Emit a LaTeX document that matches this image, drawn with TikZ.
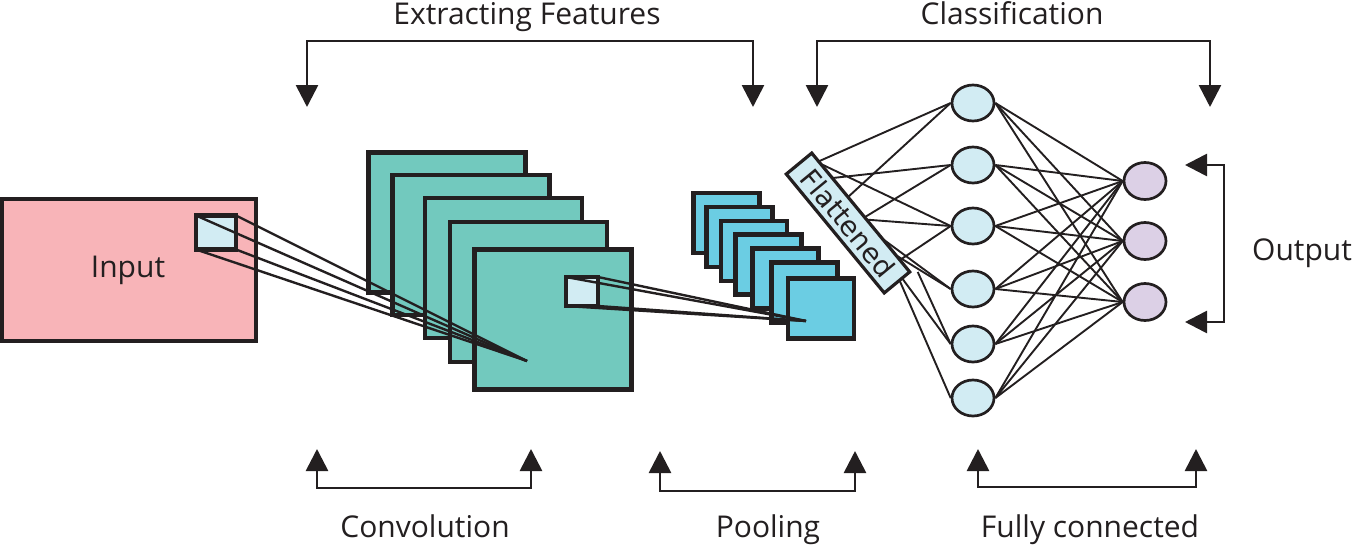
\documentclass[tikz,border=0pt]{standalone}
\usepackage{fontspec}
\setmainfont{Open Sans}
\newfontfamily\flatfont{DejaVu Sans}
\usetikzlibrary{arrows.meta,shapes.geometric,calc}
\definecolor{ink}{HTML}{231F20}
\definecolor{inpink}{HTML}{F8B4B8}
\definecolor{convteal}{HTML}{72C9BE}
\definecolor{poolblue}{HTML}{6BCDE3}
\definecolor{paleblue}{HTML}{D2ECF3}
\definecolor{lavender}{HTML}{DCD0E6}
\pgfdeclarelayer{bg}
\pgfsetlayers{bg,main}
\begin{document}
\begin{tikzpicture}[x=1pt,y=-1pt,
 box/.style={draw=ink, line width=4.2pt, inner sep=0pt, outer sep=0pt, rectangle},
 convsq/.style={box, fill=convteal, minimum width=157pt, minimum height=140pt},
 poolsq/.style={box, fill=poolblue, minimum width=66pt, minimum height=60pt},
 lbl/.style={font=\fontsize{30}{36}\selectfont, text=ink, anchor=base, inner sep=0pt},
 brk/.style={draw=ink, line width=2.7pt, {Triangle[width=22pt,length=22pt]}-{Triangle[width=22pt,length=22pt]}},
 wire/.style={draw=ink, line width=1.9pt},
 ray/.style={draw=ink, line width=2.4pt},
 neuron/.style={ellipse, draw=ink, line width=2.7pt, fill=paleblue, minimum width=42pt, minimum height=36pt, inner sep=0pt},
 outn/.style={neuron, fill=lavender, minimum height=37pt}
]
\useasboundingbox (0,0) rectangle (1352,546);

% labels
\node[lbl] (tExtract) at (527,24) {Extracting Features};
\node[lbl] (tClass) at (1012,24) {Classification};
\node[lbl] (tConv) at (425,537) {Convolution};
\node[lbl] (tPool) at (768,537) {Pooling};
\node[lbl] (tFull) at (1090,537) {Fully connected};
\node[lbl] (tOut) at (1302,260) {Output};

% brackets
\coordinate (eL) at (307,107); \coordinate (eM) at (530,41); \coordinate (eR) at (753,107);
\draw[brk] (eL) |- (eM) -| (eR);
\coordinate (kL) at (817,107); \coordinate (kM) at (1013,41); \coordinate (kR) at (1210,107);
\draw[brk] (kL) |- (kM) -| (kR);
\coordinate (cL) at (317,449); \coordinate (cM) at (424,488); \coordinate (cR) at (531,449);
\draw[brk] (cL) |- (cM) -| (cR);
\coordinate (pL) at (660,451); \coordinate (pM) at (757,491); \coordinate (pR) at (855,451);
\draw[brk] (pL) |- (pM) -| (pR);
\coordinate (fL) at (978,449); \coordinate (fM) at (1087,487); \coordinate (fR) at (1196,449);
\draw[brk] (fL) |- (fM) -| (fR);
\coordinate (oT) at (1185,165); \coordinate (oM) at (1224,243); \coordinate (oB) at (1185,322);
\draw[brk] (oT) -| (oM) |- (oB);

% input
\node[box, fill=inpink, minimum width=254pt, minimum height=142pt] (input) at (129,270) {};
\node[lbl] (inputlbl) at (128,277) {Input};
\node[box, fill=paleblue, minimum width=40pt, minimum height=34pt] (insq) at (216,232.5) {};

% convolution maps
\node[convsq] (c1) at (447,222.5) {};
\node[convsq] (c2) at (471,245) {};
\node[convsq] (c3) at (503.5,268) {};
\node[convsq] (c4) at (528.5,292) {};
\node[convsq] (c5) at (553,319.5) {};
\node[box, fill=paleblue, minimum width=32pt, minimum height=29pt] (csq) at (582,291.5) {};

\coordinate (cp1) at (527,361);
\foreach \a in {north west,north east,south west,south east}
  \draw[ray] (insq.\a) -- (cp1);

% pooling maps
\node[poolsq] (p1) at (726.5,223) {};
\node[poolsq] (p2) at (739.5,237) {};
\node[poolsq] (p3) at (754,251) {};
\node[poolsq] (p4) at (768.5,264.5) {};
\node[poolsq] (p5) at (785.5,278.5) {};
\node[poolsq] (p6) at (804.5,292.5) {};
\node[poolsq] (p7) at (821,308.5) {};

\coordinate (cp2) at (806,321);
\foreach \a in {north west,north east,south west,south east}
  \draw[ray] (csq.\a) -- (cp2);

% flattened
\node[box, line width=3.2pt, fill=paleblue, rotate=-50.5, minimum width=154pt, minimum height=33pt,
      font=\flatfont\fontsize{27.5}{30}\selectfont, text=ink] (flat) at (848,223) {Flattened};

% hidden and output neurons
\node[neuron] (h1) at (973,103) {};
\node[neuron] (h2) at (973,165) {};
\node[neuron] (h3) at (973,226) {};
\node[neuron] (h4) at (973,289) {};
\node[neuron] (h5) at (973,344) {};
\node[neuron] (h6) at (973,398) {};
\node[outn] (o1) at (1145,181) {};
\node[outn] (o2) at (1145,241) {};
\node[outn] (o3) at (1145,302) {};

\begin{pgfonlayer}{bg}
  \draw[wire] ($(flat.north west)!0.07!(flat.north east)$) -- (h1.west);
  \draw[wire] ($(flat.north west)!0.37!(flat.north east)$) -- (h1.west);
  \draw[wire] ($(flat.north west)!0.21!(flat.north east)$) -- (h2.west);
  \draw[wire] ($(flat.north west)!0.54!(flat.north east)$) -- (h2.west);
  \draw[wire] ($(flat.north west)!0.09!(flat.north east)$) -- (h3.west);
  \draw[wire] ($(flat.north west)!0.56!(flat.north east)$) -- (h3.west);
  \draw[wire] ($(flat.north west)!0.90!(flat.north east)$) -- (h3.west);
  \draw[wire] ($(flat.north west)!0.72!(flat.north east)$) -- (h4.west);
  \draw[wire] ($(flat.north west)!0.86!(flat.north east)$) -- (h4.west);
  \draw[wire] ($(flat.north east)!0.3!(flat.south east)$) -- (h5.west);
  \draw[wire] ($(flat.north east)+(8,0)$) -- (h5.west);
  \draw[wire] ($(flat.north east)!0.4!(flat.south east)$) -- (h6.west);
  \foreach \h in {h1,h2,h3,h4,h5,h6}
    \foreach \o in {o1,o2,o3}
      \draw[wire] (\h.east) -- (\o.west);
\end{pgfonlayer}
\end{tikzpicture}
\end{document}
